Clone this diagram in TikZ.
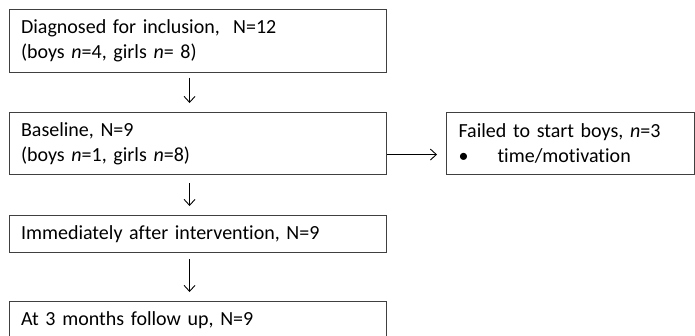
\documentclass[tikz,border=0pt]{standalone}
\usepackage{fontspec}
\setmainfont[Ligatures=NoCommon]{Carlito}
\usetikzlibrary{arrows.meta}

\begin{document}
\begin{tikzpicture}[x=1pt, y=-1pt,
  flowbox/.style={draw=black!75, line width=1.1pt, anchor=north west,
    inner xsep=12pt, inner ysep=0pt, align=left,
    font=\fontsize{20}{25}\selectfont},
  flowarrow/.style={draw=black, line width=0.9pt,
    -{Straight Barb[length=6pt, width=11pt, line width=0.9pt]}}]
  \useasboundingbox (0,0) rectangle (695,335);

  % stages of the study, top to bottom
  \node[flowbox, minimum width=377.5pt, minimum height=62.5pt, text width=353.5pt]
    (diag) at (8.5,9) {Diagnosed for inclusion,~ N=12\\(boys \textit{n}=4, girls \textit{n}= 8)};
  \node[flowbox, minimum width=377.5pt, minimum height=62pt, text width=353.5pt]
    (base) at (8.5,112) {Baseline, N=9\\(boys \textit{n}=1, girls \textit{n}=8)};
  \node[flowbox, minimum width=377.5pt, minimum height=37pt, text width=353.5pt]
    (post) at (8.5,215) {Immediately after intervention, N=9};
  \node[flowbox, minimum width=377.5pt, minimum height=37pt, text width=353.5pt]
    (follow) at (8.5,301) {At 3 months follow up, N=9};

  % drop-outs before the start
  \node[flowbox, minimum width=248pt, minimum height=61.5pt, text width=224pt]
    (failed) at (446,112) {Failed to start boys, \textit{n}=3\\\makebox[39pt][l]{\textbullet}time/motivation};

  % connectors
  \draw[flowarrow] ([xshift=-8.25pt, yshift=-5pt]diag.south) -- ([xshift=-8.25pt, yshift=9pt]base.north);
  \draw[flowarrow] ([xshift=-8.25pt, yshift=-8pt]base.south) -- ([xshift=-8.25pt, yshift=9pt]post.north);
  \draw[flowarrow] ([xshift=-8.25pt, yshift=-6pt]post.south) -- ([xshift=-8.25pt, yshift=9pt]follow.north);
  \draw[flowarrow] ([yshift=-11pt]base.east) -- ([xshift=-9pt, yshift=-11.25pt]failed.west);
\end{tikzpicture}
\end{document}
